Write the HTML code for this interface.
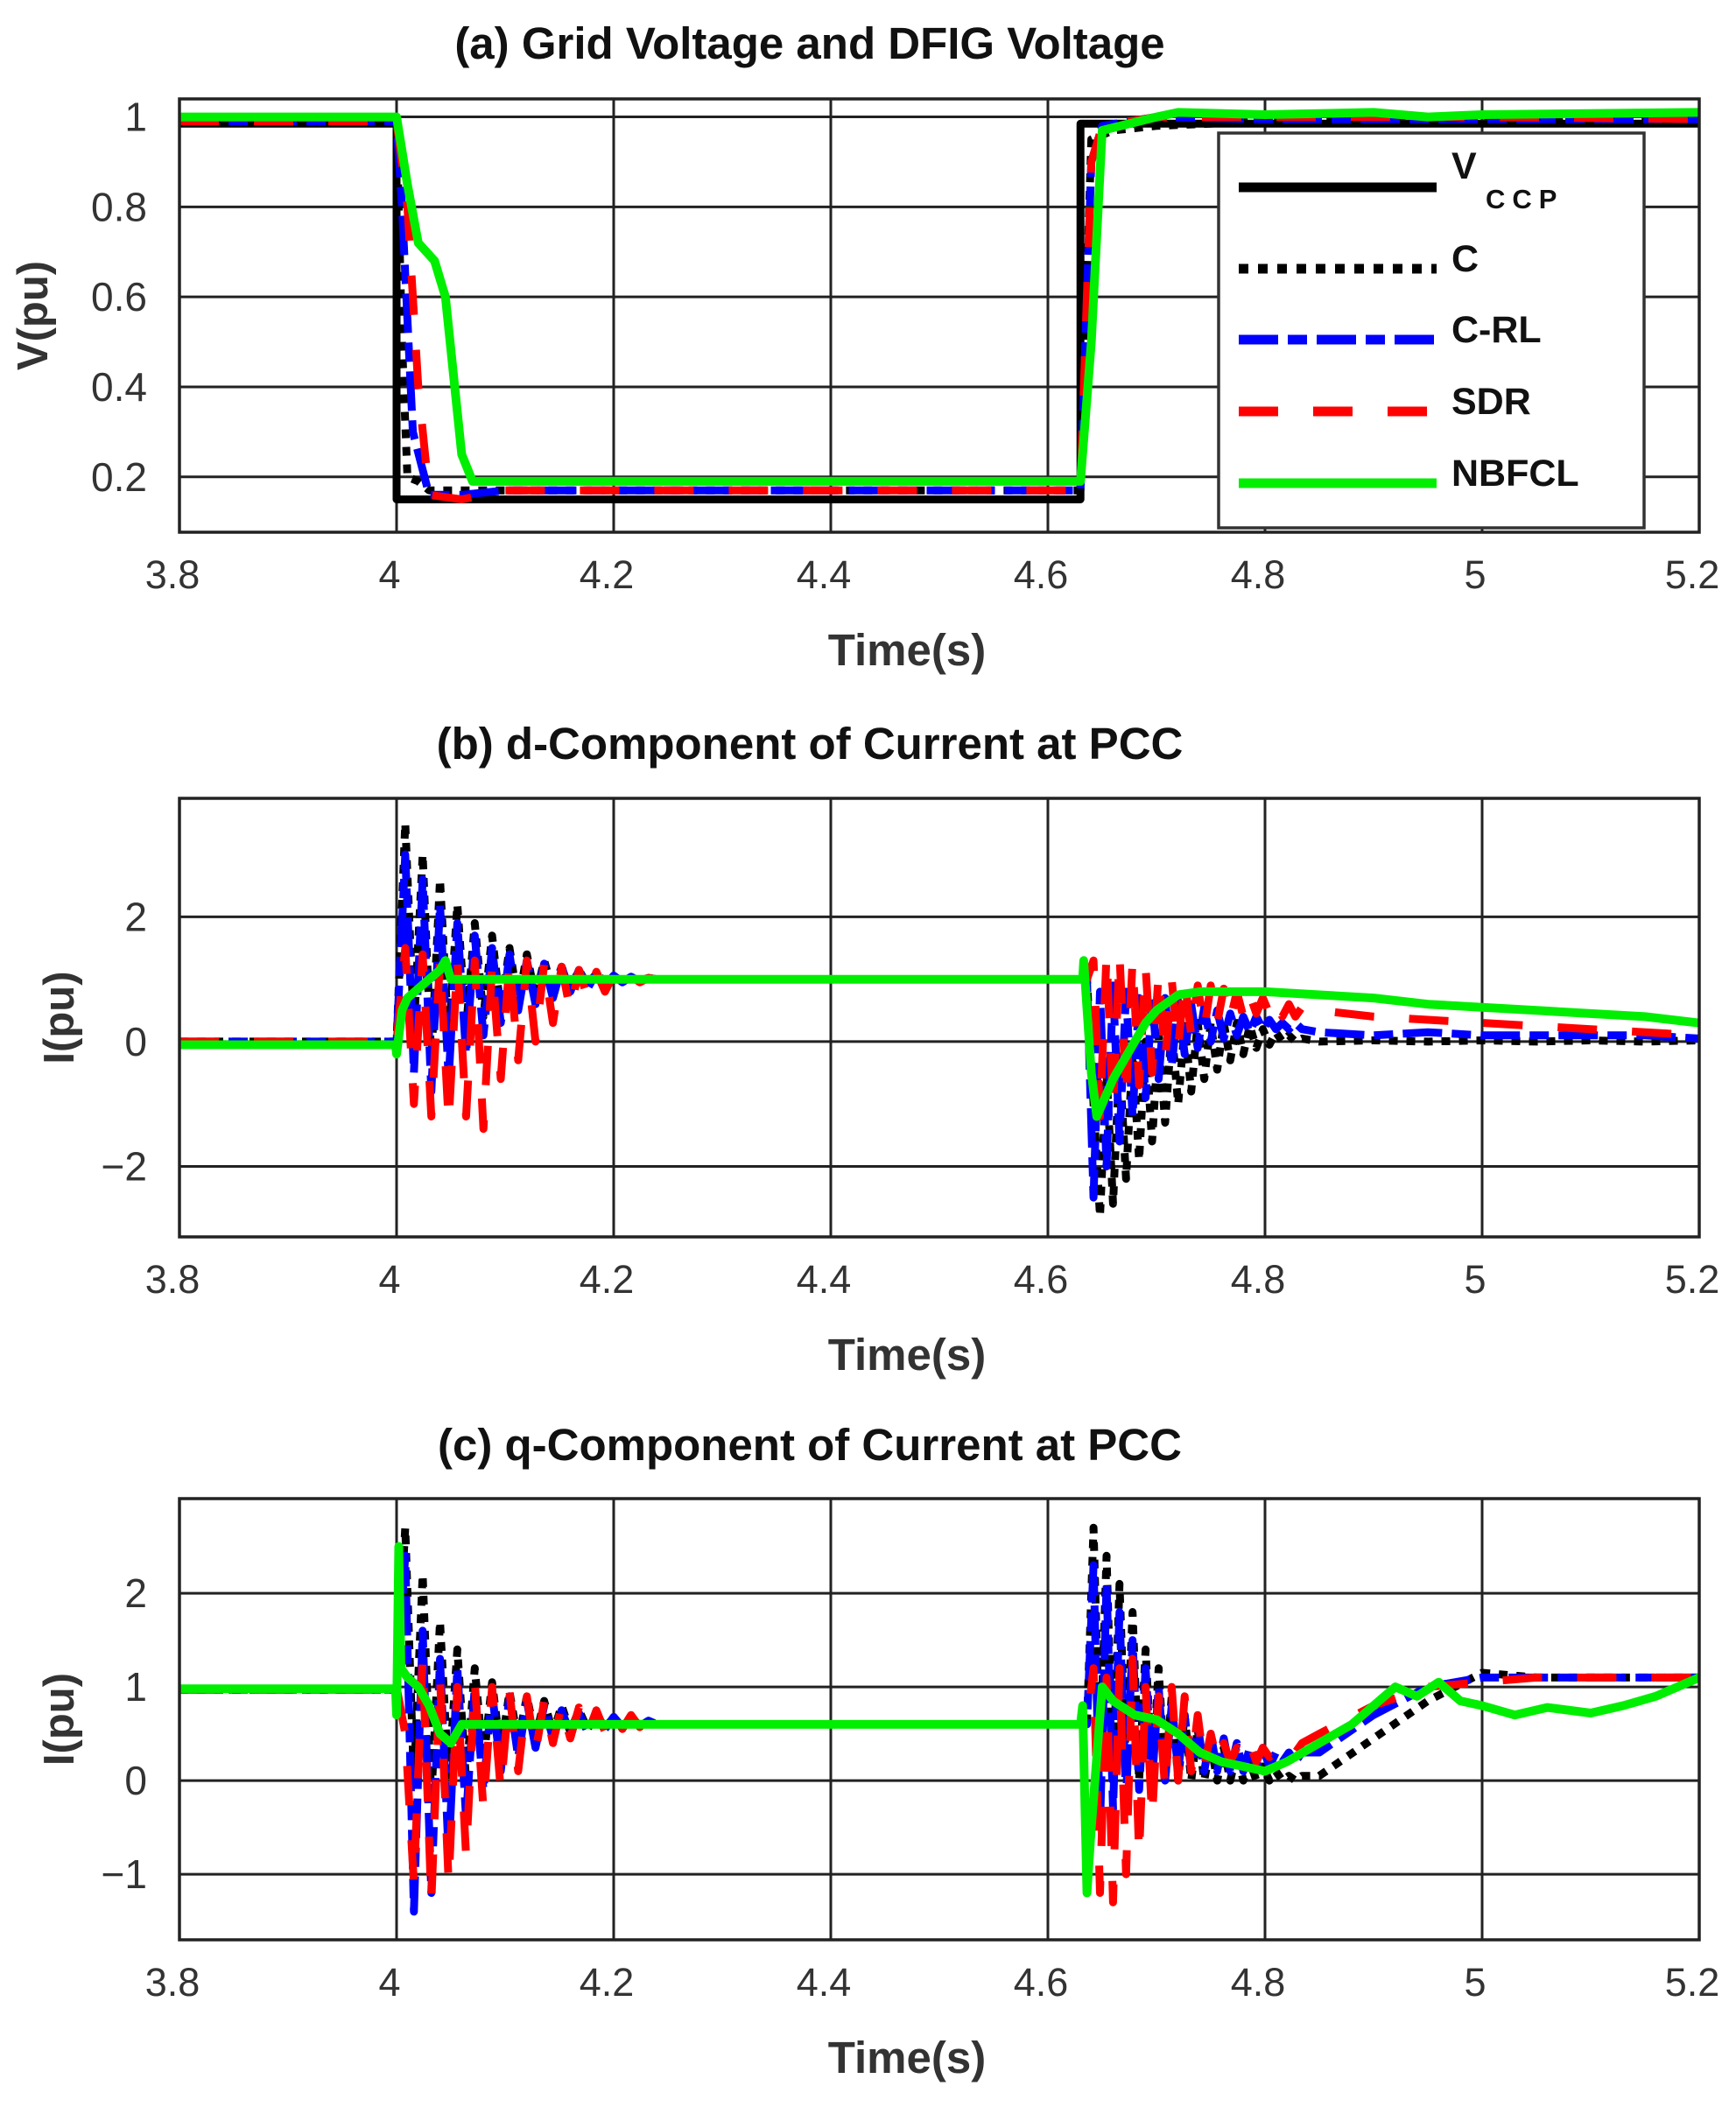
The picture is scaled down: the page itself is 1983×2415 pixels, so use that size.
<!DOCTYPE html>
<html><head><meta charset="utf-8"><style>
html,body{margin:0;padding:0;background:#fff;}
svg{display:block;font-family:"Liberation Sans",Arial,sans-serif;}
</style></head><body>
<svg id="chart" xmlns="http://www.w3.org/2000/svg" width="1983" height="2415" viewBox="0 0 1983 2415"></svg>
<script>
// ---------- shared data ----------
const xTicks = [3.8, 4.0, 4.2, 4.4, 4.6, 4.8, 5.0, 5.2];
const xTickLabels = ["3.8","4","4.2","4.4","4.6","4.8","5","5.2"];
const tPre = [3.8, 3.85, 3.9, 3.95, 3.995];
const tOsc1 = [4.000,4.008,4.016,4.024,4.032,4.040,4.048,4.056,4.064,4.072,4.080,4.088,4.096,4.104,4.112,4.120,4.128,4.136,4.144,4.152,4.160,4.168,4.176,4.184,4.192,4.200,4.208,4.216,4.224,4.232,4.240];
const tMid = [4.3, 4.4, 4.5, 4.6, 4.625];
const tOsc2 = [4.630,4.636,4.642,4.648,4.654,4.660,4.666,4.672,4.678,4.684,4.690,4.696,4.702,4.708,4.714,4.720,4.726,4.732,4.738,4.744,4.750,4.756,4.762,4.768,4.774,4.780,4.786,4.792,4.798,4.804,4.810,4.816,4.822,4.828,4.834];
const tTail = [4.85, 4.9, 4.95, 5.0, 5.05, 5.1, 5.15, 5.2];

// ---------- panel (a) data ----------
const aYTicks = [0.2, 0.4, 0.6, 0.8, 1.0];
const aYTickLabels = ["0.2","0.4","0.6","0.8","1"];
const aVccpT = [3.8, 4.0, 4.0, 4.63, 4.63, 5.2];
const aVccpV = [0.985, 0.985, 0.15, 0.15, 0.985, 0.985];
const aCT = [3.8, 4.0, 4.005, 4.01, 4.02, 4.03, 4.1, 4.63, 4.64, 4.66, 4.7, 4.8, 5.0, 5.2];
const aCV = [0.99, 0.99, 0.5, 0.2, 0.19, 0.17, 0.17, 0.17, 0.95, 0.97, 0.98, 0.99, 0.99, 0.99];
const aCRLT = [3.8, 4.0, 4.005, 4.015, 4.03, 4.06, 4.1, 4.63, 4.64, 4.65, 4.7, 4.8, 5.0, 5.2];
const aCRLV = [0.99, 0.99, 0.8, 0.3, 0.16, 0.16, 0.17, 0.17, 0.9, 0.98, 1.0, 0.995, 0.995, 0.995];
const aSDRT = [3.8, 4.0, 4.01, 4.02, 4.03, 4.06, 4.1, 4.63, 4.64, 4.65, 4.7, 4.8, 5.0, 5.2];
const aSDRV = [0.99, 0.99, 0.8, 0.4, 0.16, 0.15, 0.17, 0.17, 0.9, 0.98, 1.0, 1.0, 1.0, 0.995];
const aNBT = [3.8, 4.0, 4.01, 4.02, 4.035, 4.045, 4.06, 4.07, 4.3, 4.63, 4.64, 4.65, 4.7, 4.72, 4.8, 4.9, 4.95, 5.0, 5.2];
const aNBV = [1.0, 1.0, 0.85, 0.72, 0.68, 0.6, 0.25, 0.19, 0.19, 0.19, 0.5, 0.97, 1.0, 1.01, 1.005, 1.01, 1.0, 1.005, 1.01];

// ---------- panel (b) data ----------
const bYTicks = [-2, 0, 2];
const bYTickLabels = ["\u22122","0","2"];
const bCPre = [0,0,0,0,0];
const bCOsc1 = [0,3.5,0.2,3.0,-0.3,2.6,0.0,2.2,0.2,1.9,0.4,1.7,0.5,1.5,0.6,1.4,0.7,1.3,0.8,1.2,0.85,1.15,0.9,1.1,0.95,1.05,0.97,1.03,0.98,1.02,1.0];
const bCMid = [1,1,1,1,1];
const bCOsc2 = [1.0,1.0,-1.0,-2.8,-0.5,-2.6,-0.3,-2.2,-0.2,-1.9,0.0,-1.6,0.1,-1.3,0.2,-1.0,0.25,-0.8,0.3,-0.6,0.3,-0.45,0.3,-0.3,0.3,-0.2,0.25,-0.1,0.2,-0.05,0.15,0.0,0.1,0.0,0.05];
const bCTail = [0,0.02,0,0.02,0,0.02,0,0.02];
const bCRLPre = [0,0,0,0,0];
const bCRLOsc1 = [0,3.0,-0.5,2.6,-0.8,2.2,-0.6,1.9,-0.2,1.7,0.1,1.5,0.3,1.4,0.5,1.3,0.6,1.25,0.7,1.2,0.8,1.15,0.85,1.1,0.9,1.06,0.95,1.04,0.97,1.02,1.0];
const bCRLMid = [1,1,1,1,1];
const bCRLOsc2 = [1.0,1.0,-2.5,0.8,-2.0,0.9,-1.6,0.8,-1.2,0.7,-0.9,0.7,-0.6,0.7,-0.4,0.65,-0.2,0.6,-0.1,0.55,0.0,0.5,0.05,0.45,0.1,0.4,0.15,0.4,0.2,0.35,0.2,0.3,0.2,0.3,0.2];
const bCRLTail = [0.15,0.1,0.15,0.1,0.1,0.1,0.1,0.05];
const bSDRPre = [0,0,0,0,0];
const bSDROsc1 = [0,1.5,-1.0,1.4,-1.2,1.3,-1.3,1.3,-1.2,1.3,-1.4,1.2,-0.6,1.3,-0.3,1.3,0.0,1.25,0.3,1.2,0.5,1.15,0.7,1.12,0.8,1.08,0.9,1.05,0.95,1.02,1.0];
const bSDRMid = [1,1,1,1,1];
const bSDROsc2 = [1.0,1.0,1.3,-1.2,1.4,-1.1,1.4,-0.9,1.3,-0.7,1.2,-0.5,1.1,-0.3,1.0,-0.1,1.0,0.1,0.9,0.2,0.9,0.3,0.85,0.35,0.8,0.4,0.75,0.45,0.7,0.45,0.65,0.4,0.6,0.4,0.55];
const bSDRTail = [0.5,0.4,0.35,0.3,0.25,0.2,0.15,0.1];
const bNBT = [3.8,3.9,3.999,4.0,4.005,4.01,4.02,4.03,4.04,4.045,4.05,4.06,4.1,4.3,4.5,4.632,4.633,4.64,4.645,4.65,4.66,4.67,4.68,4.69,4.7,4.72,4.74,4.8,4.85,4.9,4.95,5.0,5.05,5.1,5.15,5.2];
const bNBV = [-0.05,-0.05,-0.05,-0.2,0.5,0.7,0.85,1.0,1.15,1.3,1.0,1.0,1.0,1.0,1.0,1.0,1.3,-0.5,-1.2,-1.0,-0.6,-0.3,0.0,0.3,0.5,0.75,0.8,0.8,0.75,0.7,0.6,0.55,0.5,0.45,0.4,0.3];

// ---------- panel (c) data ----------
const cYTicks = [-1, 0, 1, 2];
const cYTickLabels = ["\u22121","0","1","2"];
const cCPre = [0.97,0.97,0.97,0.97,0.97];
const cCOsc1 = [1.0,2.7,0.0,2.2,-0.2,1.7,0.0,1.4,0.0,1.2,0.2,1.05,0.3,0.95,0.4,0.9,0.45,0.85,0.5,0.8,0.52,0.75,0.55,0.7,0.57,0.67,0.58,0.65,0.6,0.63,0.6];
const cCMid = [0.6,0.6,0.6,0.6,0.6];
const cCOsc2 = [0.6,0.6,2.7,0.2,2.4,0.0,2.1,0.1,1.8,0.0,1.4,0.0,1.2,0.0,0.9,0.0,0.7,0.0,0.55,0.0,0.4,0.0,0.35,0.0,0.3,0.0,0.2,0.0,0.15,0.0,0.1,0.0,0.05,0.0,0.05];
const cCTail = [0.05,0.45,0.85,1.15,1.1,1.1,1.1,1.1];
const cCRLPre = [0.97,0.97,0.97,0.97,0.97];
const cCRLOsc1 = [1.0,2.4,-1.4,1.6,-1.2,1.3,-0.8,1.2,-0.4,1.0,-0.1,0.95,0.1,0.9,0.25,0.85,0.35,0.8,0.45,0.75,0.5,0.72,0.52,0.7,0.55,0.68,0.57,0.66,0.58,0.64,0.6];
const cCRLMid = [0.6,0.6,0.6,0.6,0.6];
const cCRLOsc2 = [0.6,0.6,2.3,-0.5,2.1,-0.3,1.8,-0.2,1.5,-0.1,1.2,0.0,1.0,0.0,0.8,0.1,0.7,0.1,0.6,0.1,0.5,0.1,0.45,0.1,0.4,0.1,0.35,0.15,0.35,0.15,0.3,0.2,0.3,0.2,0.3];
const cCRLTail = [0.3,0.7,1.0,1.1,1.1,1.1,1.1,1.1];
const cSDRPre = [0.97,0.97,0.97,0.97,0.97];
const cSDROsc1 = [1.0,0.5,-1.1,1.3,-1.3,1.1,-1.1,1.0,-0.8,1.05,-0.3,1.0,-0.1,0.95,0.1,0.9,0.3,0.85,0.4,0.8,0.45,0.78,0.5,0.75,0.52,0.72,0.55,0.7,0.57,0.67,0.6];
const cSDRMid = [0.6,0.6,0.6,0.6,0.6];
const cSDROsc2 = [0.6,0.6,1.2,-1.2,1.1,-1.3,1.2,-1.0,1.3,-0.8,1.0,-0.4,0.9,-0.1,1.0,0.0,0.9,0.1,0.7,0.15,0.5,0.2,0.4,0.2,0.35,0.25,0.4,0.2,0.35,0.25,0.3,0.25,0.35,0.3,0.4];
const cSDRTail = [0.5,0.8,1.0,1.05,1.1,1.1,1.1,1.1];
const cNBT = [3.8,3.9,3.999,4.0,4.002,4.004,4.01,4.02,4.03,4.04,4.05,4.06,4.1,4.3,4.5,4.62,4.63,4.632,4.636,4.64,4.65,4.66,4.68,4.7,4.72,4.74,4.76,4.78,4.8,4.82,4.85,4.88,4.9,4.92,4.94,4.96,4.98,5.0,5.03,5.06,5.1,5.13,5.16,5.2];
const cNBV = [0.98,0.98,0.98,0.7,2.5,1.2,1.1,1.0,0.8,0.5,0.4,0.6,0.6,0.6,0.6,0.6,0.6,0.8,-1.2,-0.5,1.0,0.85,0.7,0.65,0.5,0.3,0.2,0.15,0.1,0.2,0.4,0.6,0.8,1.0,0.9,1.05,0.85,0.8,0.7,0.78,0.72,0.8,0.9,1.1];

// ---------- drawing ----------
const NS = "http://www.w3.org/2000/svg";
const svg = document.getElementById("chart");
function mk(tag, attrs, parent) {
  const e = document.createElementNS(NS, tag);
  for (const k in attrs) e.setAttribute(k, attrs[k]);
  (parent || svg).appendChild(e);
  return e;
}
const X0 = 205, X1 = 1941;
function xs(t) { return X0 + (t - 3.8) / 1.4 * (X1 - X0); }
function cat(a, b, c, d, e) { return a.concat(b, c, d, e); }
const STYLES = {
  vccp: {stroke:"#000", w:9, dash:""},
  c:    {stroke:"#000", w:9, dash:"10 10"},
  crl:  {stroke:"#0000ff", w:9, dash:"45 11 22 11"},
  sdr:  {stroke:"#ff0000", w:9, dash:"45 40"},
  nb:   {stroke:"#00ee00", w:10, dash:""}
};

function panel(p) {
  const g = mk("g", {});
  
  
  const ys = v => p.yBot - (v - p.yMin) / (p.yMax - p.yMin) * (p.yBot - p.yTop);
  const title = mk("text", {x: 925, y: p.titleY, "text-anchor":"middle", "font-size":51, "font-weight":"bold", fill:"#111"}, g);
  title.textContent = p.title;
  
  
  xTicks.forEach(t => {
    const l = mk("line", {x1: xs(t), x2: xs(t), y1: p.yTop, y2: p.yBot, stroke:"#222", "stroke-width":3}, g);
    
    
  });
  p.yTicks.forEach(v => {
    const l = mk("line", {x1: X0, x2: X1, y1: ys(v), y2: ys(v), stroke:"#222", "stroke-width":3}, g);
    
    
  });
  const clipId = "clip-" + p.name;
  const cp = mk("clipPath", {id: clipId}, g);
  mk("rect", {x: X0, y: p.yTop, width: X1 - X0, height: p.yBot - p.yTop}, cp);
  const sg = mk("g", {"clip-path": "url(#" + clipId + ")"}, g);
  p.series.forEach(s => {
    const st = STYLES[s.key];
    const d = s.t.map((t, i) => (i ? "L" : "M") + xs(t).toFixed(1) + "," + ys(s.v[i]).toFixed(1)).join(" ");
    const path = mk("path", {d: d, fill:"none", stroke: st.stroke, "stroke-width": st.w, "stroke-dasharray": st.dash, "stroke-linejoin":"round"}, sg);
    
    
  });
  const fr = mk("rect", {x: X0, y: p.yTop, width: X1 - X0, height: p.yBot - p.yTop, fill:"none", stroke:"#222", "stroke-width":3.5}, g);
  
  
  xTicks.forEach((t, i) => {
    const tx = mk("text", {x: xs(t) - 8, y: p.yBot + 64, "text-anchor":"middle", "font-size":45, fill:"#333"}, g);
    tx.textContent = xTickLabels[i];
    
    
  });
  p.yTicks.forEach((v, i) => {
    const tx = mk("text", {x: 168, y: ys(v) + 16, "text-anchor":"end", "font-size":46, fill:"#333"}, g);
    tx.textContent = p.yTickLabels[i];
    
    
  });
  const xl = mk("text", {x: 1036, y: p.yBot + 152, "text-anchor":"middle", "font-size":51, "font-weight":"bold", fill:"#333"}, g);
  xl.textContent = "Time(s)";
  
  
  const cy = (p.yTop + p.yBot) / 2;
  const yl = mk("text", {x: p.ylX, y: cy, "text-anchor":"middle", "font-size":49, "font-weight":"bold", fill:"#333", transform: "rotate(-90 " + p.ylX + " " + cy + ")"}, g);
  yl.textContent = p.ylabel;
  
  
}

panel({name:"panel-a", title:"(a) Grid Voltage and DFIG Voltage", titleY:67, yTop:113, yBot:608, yMin:0.077, yMax:1.04,
  yTicks:aYTicks, yTickLabels:aYTickLabels, ylabel:"V(pu)", ylX:54,
  series:[
    {key:"vccp", t:aVccpT, v:aVccpV},
    {key:"c", t:aCT, v:aCV},
    {key:"crl", t:aCRLT, v:aCRLV},
    {key:"sdr", t:aSDRT, v:aSDRV},
    {key:"nb", t:aNBT, v:aNBV}
  ]});
const tAll = cat(tPre, tOsc1, tMid, tOsc2, tTail);
panel({name:"panel-b", title:"(b) d-Component of Current at PCC", titleY:867, yTop:912, yBot:1413, yMin:-3.13, yMax:3.9,
  yTicks:bYTicks, yTickLabels:bYTickLabels, ylabel:"I(pu)", ylX:84,
  series:[
    {key:"c", t:tAll, v:cat(bCPre,bCOsc1,bCMid,bCOsc2,bCTail)},
    {key:"crl", t:tAll, v:cat(bCRLPre,bCRLOsc1,bCRLMid,bCRLOsc2,bCRLTail)},
    {key:"sdr", t:tAll, v:cat(bSDRPre,bSDROsc1,bSDRMid,bSDROsc2,bSDRTail)},
    {key:"nb", t:bNBT, v:bNBV}
  ]});
panel({name:"panel-c", title:"(c) q-Component of Current at PCC", titleY:1668, yTop:1712, yBot:2216, yMin:-1.70, yMax:3.01,
  yTicks:cYTicks, yTickLabels:cYTickLabels, ylabel:"I(pu)", ylX:84,
  series:[
    {key:"c", t:tAll, v:cat(cCPre,cCOsc1,cCMid,cCOsc2,cCTail)},
    {key:"crl", t:tAll, v:cat(cCRLPre,cCRLOsc1,cCRLMid,cCRLOsc2,cCRLTail)},
    {key:"sdr", t:tAll, v:cat(cSDRPre,cSDROsc1,cSDRMid,cSDROsc2,cSDRTail)},
    {key:"nb", t:cNBT, v:cNBV}
  ]});

// ---------- legend (panel a) ----------
const legendNames = ["C","C-RL","SDR","NBFCL"];
const legendKeys = ["c","crl","sdr","nb"];
const lg = mk("g", {});


mk("rect", {x:1392, y:152, width:486, height:451, fill:"#fff", stroke:"#333", "stroke-width":3.5}, lg);
const legY = [214, 307, 388, 470, 552];
const l0 = mk("line", {x1:1415, x2:1641, y1:legY[0], y2:legY[0], stroke:"#000", "stroke-width":11}, lg);


const tv = mk("text", {x:1658, y:204, "font-size":43, "font-weight":"bold", fill:"#111"}, lg);
tv.textContent = "V";


const tv2 = mk("text", {x:1697, y:238, "font-size":31, "font-weight":"bold", fill:"#111", "letter-spacing":"8"}, lg);
tv2.textContent = "CCP";


legendKeys.forEach((k, i) => {
  const st = STYLES[k];
  const dash = k === "c" ? "11 11" : st.dash;
  const ln = mk("line", {x1:1415, x2:1641, y1:legY[i+1], y2:legY[i+1], stroke:st.stroke, "stroke-width":11, "stroke-dasharray":dash}, lg);
  
  
  const tx = mk("text", {x:1658, y:legY[i+1] + 3, "font-size":43, "font-weight":"bold", fill:"#111"}, lg);
  tx.textContent = legendNames[i];
  
  
});
</script>
</body></html>
